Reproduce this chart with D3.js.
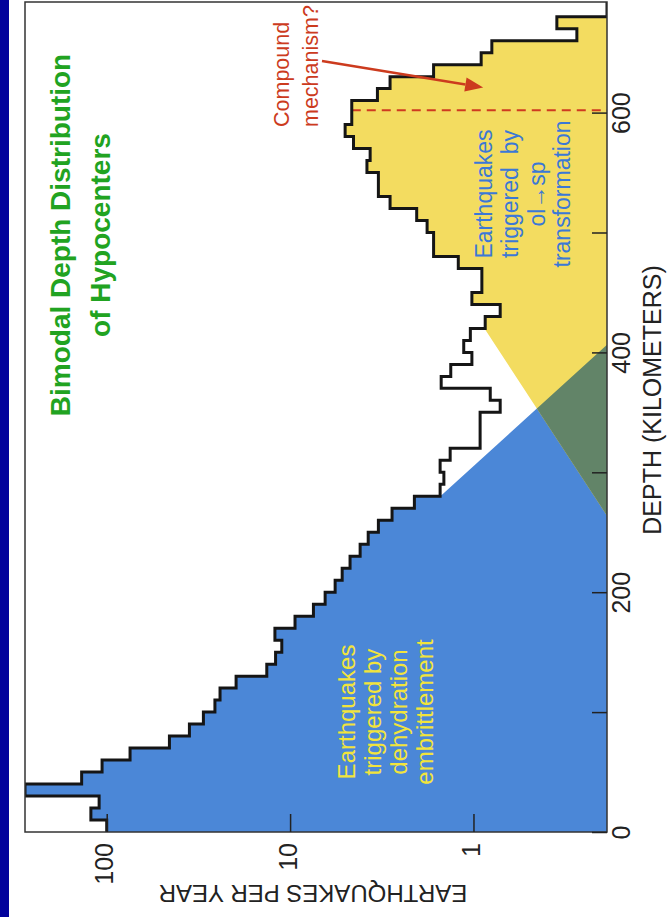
<!DOCTYPE html>
<html><head><meta charset="utf-8">
<script src="https://cdn.jsdelivr.net/npm/d3@7"></script>
<style>body{margin:0;background:#fff}svg{display:block}</style>
</head><body>
<script>
// Depth bins (km, 10 km wide) and earthquakes per year in each bin
const binStart = [0,10,20,30,40,50,60,70,80,90,100,110,120,130,140,150,160,170,180,190,
  200,210,220,230,240,250,260,270,280,290,300,310,320,330,340,350,360,370,380,390,
  400,410,420,430,440,450,460,470,480,490,500,510,520,530,540,550,560,570,580,590,
  600,610,620,630,640,650,660,670,680,690];
const rates = [100,122,110,350,137,106,74.6,45.5,35.4,29.7,25.7,24.1,19.7,13.4,12.0,11.1,12.1,9.4,7.46,6.44,
  5.68,5.2,4.71,4.15,3.75,3.3,2.78,2.1,1.52,1.45,1.52,1.34,0.92,0.92,0.92,0.715,0.81,1.5,1.33,1.02,
  1.13,1.04,0.863,0.715,1.02,0.9,0.9,1.21,1.65,1.65,1.79,2.04,2.85,3.3,3.3,3.81,3.66,4.51,5.01,4.61,
  4.61,3.34,2.85,1.65,0.908,0.794,0.273,0.351,0.1,0.1];
const binWidth = 10;

const depthTicks = [0,100,200,300,400,500,600];
const depthLabels = [0,200,400,600];
const rateTicks = [1,10,100];

// Field boundaries as [depth, rate]: first point where the edge leaves the histogram,
// second point further along the same straight edge
const blueEdge = [[281,1.49],[406,0.188]];
const yellowEdge = [[420,0.871],[353.4,0.452]];
// "Compound mechanism?" marker depth and arrow
const compoundDepth = 602;
const arrowPts = [[643,6.7],[621,0.885]];

const W = 669, H = 917;
const svg = d3.select("body").append("svg").attr("width", W).attr("height", H);
const font = "'Liberation Sans', Arial, Helvetica, sans-serif";

// Plot frame
const pL = 25, pR = 607, pT = 2, pB = 832;
const y = d3.scaleLinear().domain([0, 700]).range([pB, pB - 700 * 1.199]);
const x = d3.scaleLog().domain([0.187, 279]).range([pR, pL]).clamp(true);

svg.append("rect").attr("x", 0).attr("y", 0).attr("width", 9).attr("height", H).attr("fill", "#02029c");

const defs = svg.append("defs");
defs.append("clipPath").attr("id", "frame").append("rect")
  .attr("x", pL).attr("y", pT).attr("width", pR - pL).attr("height", pB - pT);

// clip region bounded by a straight edge that starts on the histogram outline
function edgeClip(id, e, downward) {
  const p0 = [x(e[0][1]), y(e[0][0])], p1 = [x(e[1][1]), y(e[1][0])];
  const far = [p0[0] + 6 * (p1[0] - p0[0]), p0[1] + 6 * (p1[1] - p0[1])];
  const big = downward ? 3000 : -3000;
  const poly = [[-3000, p0[1]], p0, far, [3000, far[1]], [3000, big], [-3000, big]];
  defs.append("clipPath").attr("id", id).append("path")
    .attr("d", "M" + poly.map(q => q.join(",")).join("L") + "Z");
}
edgeClip("blueSide", blueEdge, true);
edgeClip("yellowSide", yellowEdge, false);

// Histogram step outline
const pts = [];
binStart.forEach((d, i) => {
  pts.push([x(rates[i]), y(d)]);
  pts.push([x(rates[i]), y(d + binWidth)]);
});
const line = d3.line();
const fillD = line([[pR, y(0)]].concat(pts, [[pR, y(700)]])) + "Z";

const plot = svg.append("g").attr("clip-path", "url(#frame)");
plot.append("g").attr("clip-path", "url(#blueSide)")
  .append("path").attr("d", fillD).attr("fill", "#4b87d7");
plot.append("g").attr("clip-path", "url(#yellowSide)")
  .append("path").attr("d", fillD).attr("fill", "#f3dc60");
plot.append("g").attr("clip-path", "url(#yellowSide)")
  .append("g").attr("clip-path", "url(#blueSide)")
  .append("path").attr("d", fillD).attr("fill", "#628468");

// compound-mechanism dashed marker
const binIdx = binStart.findIndex(d => d <= compoundDepth && compoundDepth < d + binWidth);
plot.append("line")
  .attr("x1", x(rates[binIdx])).attr("x2", pR)
  .attr("y1", y(compoundDepth)).attr("y2", y(compoundDepth))
  .attr("stroke", "#cf3a20").attr("stroke-width", 2).attr("stroke-dasharray", "9,6");

plot.append("path").attr("d", line(pts)).attr("fill", "none")
  .attr("stroke", "#151515").attr("stroke-width", 3).attr("stroke-linejoin", "miter");

// Frame lines
svg.append("rect").attr("x", pL).attr("y", pT).attr("width", pR - pL).attr("height", pB - pT)
  .attr("fill", "none").attr("stroke", "#333").attr("stroke-width", 1.5);

// Depth axis (right side)
const ax = svg.append("g").attr("transform", `translate(${pR},0)`)
  .call(d3.axisRight(y).tickValues(depthTicks).tickSize(-15)
    .tickFormat(d => depthLabels.includes(d) ? d : ""));
ax.select(".domain").remove();
ax.selectAll("line").attr("stroke", "#222").attr("stroke-width", 1.5);
ax.selectAll("text").attr("x", null).attr("dy", null).attr("y", null)
  .attr("transform", "translate(23,0) rotate(-90)")
  .attr("text-anchor", "middle").attr("font-size", 25).attr("font-family", font).attr("fill", "#222");

// Rate axis (bottom)
const bx = svg.append("g").attr("transform", `translate(0,${pB})`)
  .call(d3.axisBottom(x).tickValues(rateTicks).tickSize(-18).tickFormat(d3.format("d")));
bx.select(".domain").remove();
bx.selectAll("line").attr("stroke", "#222").attr("stroke-width", 1.5);
bx.selectAll("text").attr("x", null).attr("dy", null).attr("y", null)
  .attr("transform", "translate(6,11) rotate(-90)")
  .attr("text-anchor", "end").attr("font-size", 25).attr("font-family", font).attr("fill", "#222");

// Axis titles
svg.append("text").attr("transform", "translate(313,885) rotate(180)")
  .attr("text-anchor", "middle").attr("font-size", 24).attr("font-family", font).attr("fill", "#222")
  .text("EARTHQUAKES PER YEAR");
svg.append("text").attr("transform", "translate(661,400) rotate(-90)")
  .attr("text-anchor", "middle").attr("font-size", 25).attr("font-family", font).attr("fill", "#222")
  .text("DEPTH (KILOMETERS)");

// rotated multi-line text helper
function block(lines, cy, baselines, size, color, anchor, weight) {
  lines.forEach((t, i) => {
    svg.append("text").attr("transform", `translate(${baselines[i]},${cy}) rotate(-90)`)
      .attr("text-anchor", anchor).attr("font-size", size).attr("font-family", font)
      .attr("font-weight", weight || "normal").attr("fill", color).style("white-space", "pre").text(t);
  });
}
block(["Bimodal Depth Distribution", "of Hypocenters"], 235, [70, 110], 28, "#21a321", "middle", "bold");
block(["Earthquakes", "triggered by", "dehydration", "embrittlement"], 712, [355, 381, 407, 433], 24, "#f2e43c", "middle");
block(["Earthquakes", "triggered  by", "ol\u2192sp", "transformation"], 194, [491.5, 518, 544.5, 570], 23, "#3b78d6", "middle");
block(["Compound", "mechanism?"], 127, [289, 318], 21.5, "#cc3b1e", "start");

// Arrow toward the deep peak
const a0 = [x(arrowPts[0][1]), y(arrowPts[0][0])], a1 = [x(arrowPts[1][1]), y(arrowPts[1][0])];
const ang = Math.atan2(a1[1] - a0[1], a1[0] - a0[0]);
const hl = 18, hw = 7;
const hb = [a1[0] - hl * Math.cos(ang), a1[1] - hl * Math.sin(ang)];
svg.append("line").attr("x1", a0[0]).attr("y1", a0[1]).attr("x2", hb[0]).attr("y2", hb[1])
  .attr("stroke", "#cc3b1e").attr("stroke-width", 2.5);
svg.append("path").attr("d", `M${a1[0]},${a1[1]}L${hb[0] - hw * Math.sin(ang)},${hb[1] + hw * Math.cos(ang)}L${hb[0] + hw * Math.sin(ang)},${hb[1] - hw * Math.cos(ang)}Z`)
  .attr("fill", "#cc3b1e");
</script>
</body></html>
